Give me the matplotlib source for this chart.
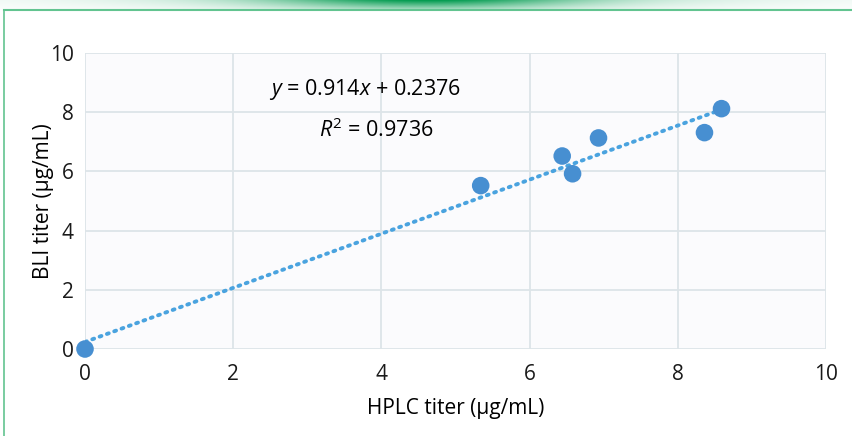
import numpy as np
import matplotlib.pyplot as plt
from matplotlib.lines import Line2D
from matplotlib.colors import to_rgb

plt.rcParams['font.family'] = ['Open Sans', 'DejaVu Sans']
plt.rcParams['mathtext.fontset'] = 'custom'
plt.rcParams['mathtext.rm'] = 'Open Sans'
plt.rcParams['mathtext.it'] = 'Open Sans:italic'

# HPLC vs BLI titers (µg/mL)
hplc = [0.0, 5.34, 6.44, 6.58, 6.93, 8.36, 8.59]
bli = [0.0, 5.52, 6.52, 5.92, 7.13, 7.31, 8.12]
slope, intercept = 0.914, 0.2376
r_squared = 0.9736
ticks = [0, 2, 4, 6, 8, 10]

W, H = 852, 436
fig = plt.figure(figsize=(W / 100, H / 100), dpi=100)

# green banner across the top
band = fig.add_axes([0, 1 - 10 / H, 1, 10 / H])
xs = np.linspace(-1, 1, 600)
ys = np.linspace(0, 1, 20)[:, None]
strength = (0.25 * np.exp(-(xs / 0.8) ** 2) + 0.75 * np.exp(-(xs / 0.35) ** 2))[None, :]
strength = strength * (0.3 + 0.7 * ys)
green = np.array(to_rgb('#009a4e'))
img = np.ones((20, 600, 3)) * (1 - strength[..., None]) + green * strength[..., None]
band.imshow(img, aspect='auto', origin='lower', extent=[0, 1, 0, 1])
band.axis('off')

fig.add_artist(Line2D([4 / W, 1], [1 - 10.5 / H] * 2, color='#62c490', lw=1.5,
                      transform=fig.transFigure))
fig.add_artist(Line2D([4 / W] * 2, [0, 1 - 10.5 / H], color='#62c490', lw=1.2,
                      transform=fig.transFigure))

ax = fig.add_axes([85 / W, 1 - 349 / H, (826 - 85) / W, (349 - 53) / H])
ax.set_facecolor('#fbfbfd')
ax.set_xlim(0, 10)
ax.set_ylim(0, 10)
ax.set_xticks(ticks)
ax.set_yticks(ticks)
ax.grid(True, color='#dde4e8', lw=1.3)
ax.set_axisbelow(True)
for s in ax.spines.values():
    s.set_visible(False)
ax.tick_params(length=0, labelsize=15, colors='#1a1a1a')
ax.tick_params(axis='x', pad=11)
ax.tick_params(axis='y', pad=8)

# linear fit
fit_x = np.array([0, max(hplc)])
ax.plot(fit_x, slope * fit_x + intercept, color='#4aa3df', lw=2.8,
        linestyle=(0, (0.5, 1.5)), dash_capstyle='round', zorder=2)
ax.scatter(hplc, bli, s=160, color='#478fd1', edgecolors='none', zorder=3,
           clip_on=False)

ax.text(3.78, 8.78, f'$y$ = {slope}$x$ + {intercept}', ha='center', va='center',
        fontsize=15.5)
ax.text(3.93, 7.4, f'$R^2$ = {r_squared}', ha='center', va='center', fontsize=15.5)

ax.set_xlabel('HPLC titer (µg/mL)', fontsize=15, labelpad=9)
ax.set_ylabel('BLI titer (µg/mL)', fontsize=15, labelpad=-3)

fig.savefig('out.png', dpi=100)
